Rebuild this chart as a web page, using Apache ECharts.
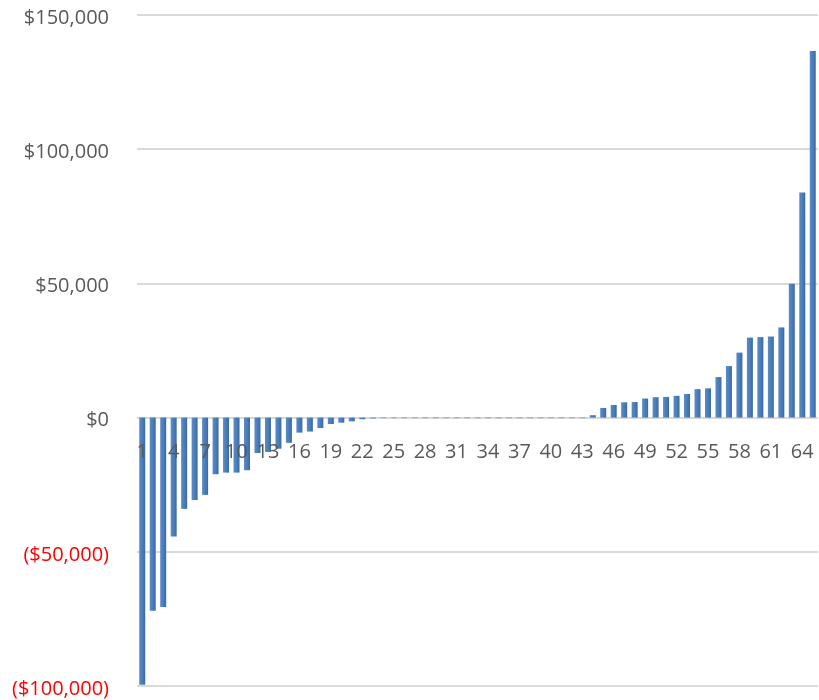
<!DOCTYPE html>
<html>
<head>
<meta charset="utf-8">
<script src="https://cdn.jsdelivr.net/npm/echarts@6/dist/echarts.min.js"></script>
<style>
html,body{margin:0;padding:0;background:#fff;}
#chart{width:819px;height:700px;}
</style>
</head>
<body>
<div id="chart"></div>
<script>
const categories = [];
for (let i = 1; i <= 65; i++) categories.push(String(i));

const values = [
  -99500, -72000, -70600, -44300, -34000, -30700, -28800, -21100, -20500, -20500,
  -19600, -13200, -12800, -11600, -9400, -5600, -5200, -3900, -2400, -1900,
  -1400, -600, -300, -200, -200, -200, -200, -200, -200, -200,
  -200, -200, -200, -200, -200, -200, -200, -200, -200, -200,
  -200, -200, -200, 900, 3600, 4700, 5700, 5800, 7100, 7600,
  7700, 8100, 8800, 10600, 10900, 15100, 19200, 24200, 29800, 30000,
  30200, 33600, 49900, 83900, 136600
];

const yTicks = { min: -100000, max: 150000, interval: 50000 };

function fmt(v) {
  const s = '$' + Math.abs(v).toLocaleString('en-US');
  return v < 0 ? '{neg|(' + s + ')}' : s;
}

const chart = echarts.init(document.getElementById('chart'));
chart.setOption({
  animation: false,
  textStyle: { fontFamily: 'Open Sans, Liberation Sans, Arial, sans-serif' },
  grid: { left: 137, right: 1, top: 15, bottom: 14, containLabel: false, outerBoundsMode: 'none' },
  xAxis: {
    type: 'category',
    data: categories,
    z: 10,
    axisLine: { onZero: false, show: false },
    axisTick: { show: false },
    axisLabel: {
      interval: 2,
      color: '#595959',
      fontSize: 20,
      margin: -244
    },
    splitLine: { show: false }
  },
  yAxis: {
    type: 'value',
    min: yTicks.min,
    max: yTicks.max,
    interval: yTicks.interval,
    axisLine: { show: false },
    axisTick: { show: false },
    axisLabel: {
      color: '#595959',
      fontSize: 20,
      margin: 28,
      padding: [6, 0, 0, 0],
      formatter: fmt,
      rich: { neg: { color: '#ff0000', fontSize: 20 } }
    },
    splitLine: { lineStyle: { color: '#d9d9d9', width: 2 } }
  },
  series: [{
    type: 'bar',
    data: values,
    barWidth: 6,
    z: 2,
    itemStyle: {
      color: {
        type: 'linear', x: 0, y: 0, x2: 1, y2: 0,
        colorStops: [
          { offset: 0, color: '#5b8bc9' },
          { offset: 0.5, color: '#4a7ebb' },
          { offset: 1, color: '#3a6aa3' }
        ]
      }
    }
  }]
});
</script>
</body>
</html>
